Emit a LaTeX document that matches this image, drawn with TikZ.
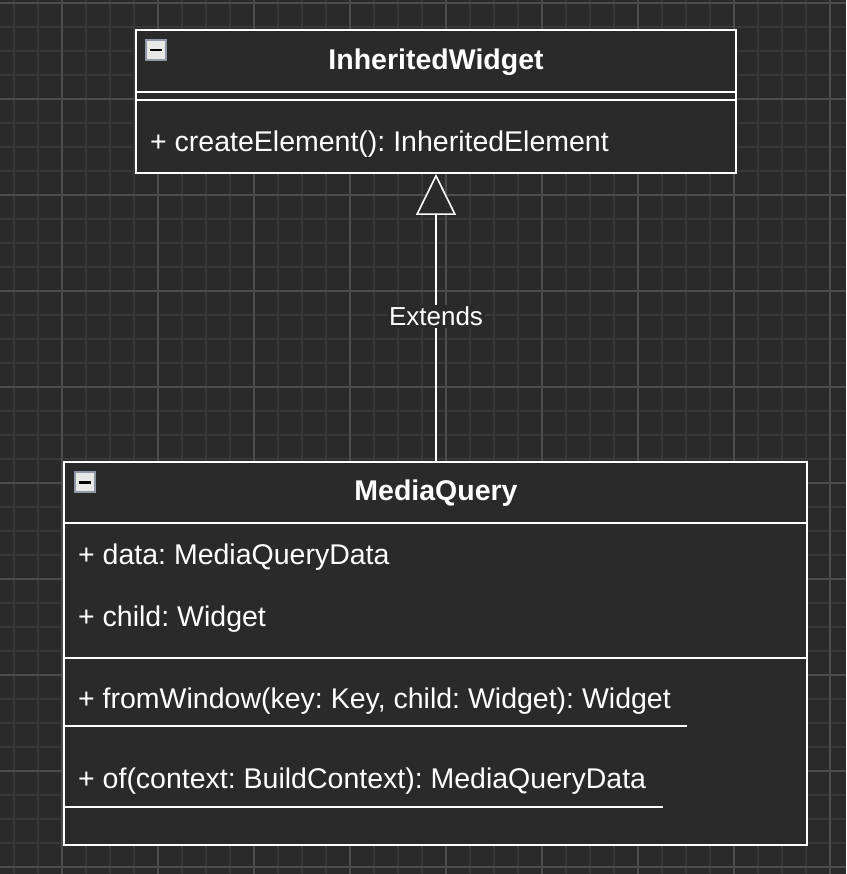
\documentclass[tikz,border=0pt]{standalone}
\usepackage{fontspec}
\setmainfont{Liberation Sans}
\frenchspacing
\usetikzlibrary{arrows.meta}
\definecolor{bgc}{HTML}{2A2A2A}
\definecolor{minorc}{HTML}{383838}
\definecolor{majorc}{HTML}{4C4C4C}
\definecolor{iconc}{HTML}{E8E8E8}
\definecolor{iconb}{HTML}{9098A8}
\tikzset{
  umlbox/.style={draw=white,line width=1.6pt},
  member/.style={anchor=west,text=white,inner sep=2pt,font=\fontsize{28.5}{32}\selectfont},
  title/.style={text=white,font=\bfseries\fontsize{28.5}{32}\selectfont},
}
\newcommand{\collapseicon}[2]{%
  \fill[iconc,draw=iconb,line width=1.5pt] (#1,#2) rectangle ++(20,20);
  \fill[black] (#1+4,#2+9) rectangle ++(12,2.5);}
\begin{document}
\begin{tikzpicture}[x=1pt,y=-1pt]
\fill[bgc] (0,0) rectangle (846,874);
\useasboundingbox (0,0) rectangle (846,874);
\foreach \i in {14,38,...,846} \draw[minorc,line width=1.2pt] (\i,0)--(\i,874);
\foreach \i in {3,27,...,874} \draw[minorc,line width=1.2pt] (0,\i)--(846,\i);
\foreach \i in {62,158,...,846} \draw[majorc,line width=1.2pt] (\i,0)--(\i,874);
\foreach \i in {3,99,...,874} \draw[majorc,line width=1.2pt] (0,\i)--(846,\i);
% InheritedWidget
\fill[bgc] (136,30) rectangle (736,173);
\draw[umlbox] (136,30) rectangle (736,173);
\draw[umlbox] (136,92) -- (736,92);
\draw[umlbox] (136,100) -- (736,100);
\collapseicon{146}{40}
\node[title] (iw) at (436,62) {InheritedWidget};
\node[member] (iwm) at (148,144) {+ createElement(): InheritedElement};
% MediaQuery
\fill[bgc] (64,462) rectangle (807,845);
\draw[umlbox] (64,462) rectangle (807,845);
\draw[umlbox] (64,523) -- (807,523);
\draw[umlbox] (64,658) -- (807,658);
\collapseicon{75}{472}
\node[title] (mq) at (436,493) {MediaQuery};
\node[member] (mqa) at (76,557) {+ data: MediaQueryData};
\node[member] (mqb) at (76,619) {+ child: Widget};
\node[member] (mqc) at (76,701) {+ fromWindow(key: Key, child: Widget): Widget};
\draw[white,line width=1.3pt] (64,726) -- (687,726);
\node[member] (mqd) at (76,781) {+ of(context: BuildContext): MediaQueryData};
\draw[white,line width=1.3pt] (64,807) -- (663,807);
% extends
\coordinate (top) at (436,174);
\coordinate (bot) at (436,462);
\draw[white,line width=1.6pt,-{Triangle[open,width=40pt,length=41pt,fill=bgc]}] (bot) -- (top)
  node[pos=0.505,fill=bgc,text=white,inner sep=2pt,font=\fontsize{26}{29}\selectfont] (ext) {Extends};
\end{tikzpicture}
\end{document}
